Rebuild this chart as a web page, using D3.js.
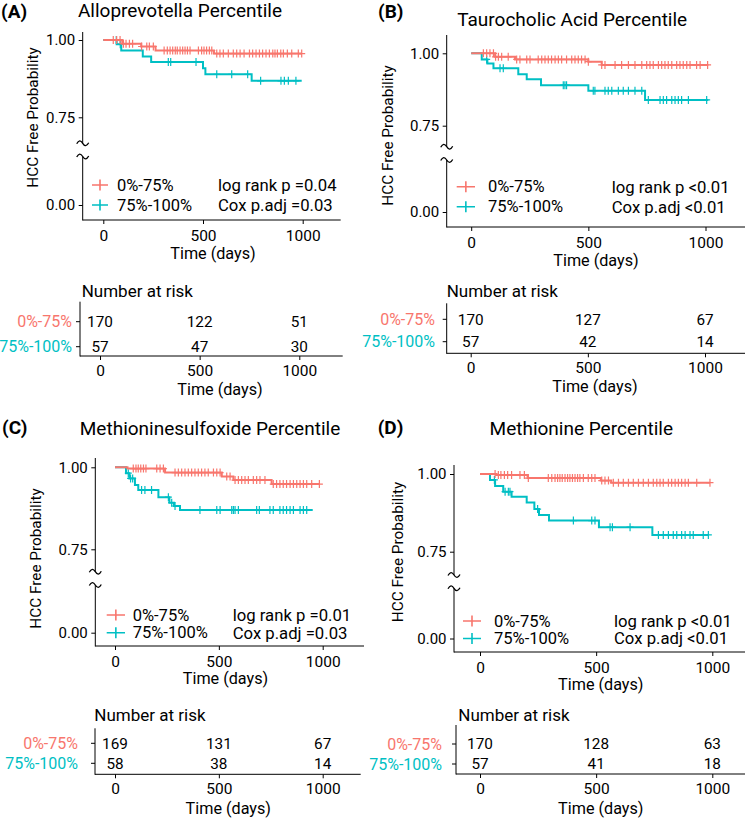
<!DOCTYPE html>
<html><head><meta charset="utf-8">
<script src="https://cdn.jsdelivr.net/npm/d3@7"></script>
<style>
body{margin:0;background:#fff}
svg text{font-family:Roboto, "Open Sans", sans-serif; fill:#000}
</style></head>
<body><svg id="c" width="750" height="819"></svg>
<script>
// ---------------- DATA ----------------
const groups = ["0%-75%", "75%-100%"];
const groupColors = ["#F8766D", "#00BFC4"];
const xTicks = [0, 500, 1000];
const xTickLabels = ["0", "500", "1000"];
const yTicks = [0, 0.75, 1];
const yTickLabels = ["0.00", "0.75", "1.00"];
const panelLetters = ["(A)", "(B)", "(C)", "(D)"];
const titles = ["Alloprevotella Percentile", "Taurocholic Acid Percentile", "Methioninesulfoxide Percentile", "Methionine Percentile"];
const logRankTexts = ["log rank p =0.04", "log rank p <0.01", "log rank p =0.01", "log rank p <0.01"];
const coxTexts = ["Cox p.adj =0.03", "Cox p.adj <0.01", "Cox p.adj =0.03", "Cox p.adj <0.01"];

// Panel A
const stepsA_low = [[0,1],[95,0.988],[190,0.979],[262,0.966],[555,0.956]];
const endA_low = 995;
const censA_low = [50,67,84,101,114,131,147,192,218,231,251,305,321,335,348,361,371,385,398,410,422,435,477,493,505,518,532,544,569,585,602,627,652,669,686,706,733,749,766,783,799,816,833,850,861,873,890,903,923,945,978,995];
const stepsA_high = [[0,1],[67,0.986],[90,0.966],[198,0.947],[240,0.929],[500,0.909],[512,0.889],[744,0.868]];
const endA_high = 995;
const censA_high = [65,85,326,338,465,569,644,724,789,891,908,928,966];
const riskA_low = [170,122,51];
const riskA_high = [57,47,30];

// Panel B
const stepsB_low = [[0,1],[102,0.988],[187,0.979],[500,0.971],[557,0.96]];
const endB_low = 1012;
const censB_low = [52,66,80,95,104,116,130,158,194,208,237,251,286,301,315,329,343,358,372,386,407,429,443,457,471,486,500,557,571,614,642,671,699,728,749,763,777,799,813,827,841,856,877,891,905,920,934,962,977,1009];
const stepsB_high = [[0,1],[45,0.979],[69,0.965],[95,0.948],[201,0.928],[237,0.91],[298,0.89],[500,0.871],[742,0.839]];
const endB_high = 1012;
const censB_high = [66,123,137,393,400,407,521,528,571,585,600,628,649,671,699,728,756,806,820,834,856,870,884,898,927,1005];
const riskB_low = [170,127,67];
const riskB_high = [57,42,14];

// Panel C
const stepsC_low = [[0,1],[60,0.996],[241,0.984],[514,0.972],[570,0.961],[754,0.949]];
const endC_low = 984;
const censC_low = [88,101,112,124,137,149,201,217,233,289,305,321,337,353,369,385,401,417,433,449,474,490,506,538,554,578,594,610,626,642,666,682,698,722,762,778,794,810,826,843,859,875,891,907,923,947,984];
const stepsC_high = [[0,1],[53,0.982],[69,0.966],[96,0.946],[112,0.931],[209,0.909],[262,0.892],[284,0.882],[313,0.87]];
const endC_high = 952;
const censC_high = [64,75,85,128,144,176,257,273,289,409,490,506,562,570,578,594,682,695,746,762,794,810,826,843,859,891,907,923];
const riskC_low = [169,131,67];
const riskC_high = [58,38,14];

// Panel D
const stepsD_low = [[0,1],[70,0.997],[205,0.987],[520,0.979],[565,0.972]];
const endD_low = 990;
const censD_low = [65,79,90,105,119,136,172,191,208,294,309,323,334,344,354,366,377,387,398,409,420,430,445,466,481,495,524,538,553,574,596,617,639,660,682,703,725,746,761,775,789,811,825,840,854,868,883,897,933,990];
const stepsD_high = [[0,1],[43,0.981],[65,0.961],[100,0.943],[136,0.927],[201,0.908],[234,0.887],[254,0.868],[297,0.85],[512,0.829],[742,0.804]];
const endD_high = 983;
const censD_high = [62,108,122,129,248,402,481,495,560,570,646,768,789,811,832,847,868,883,904,918,961,983];
const riskD_low = [170,128,63];
const riskD_high = [57,41,18];

const panelData = [
  {steps:[stepsA_low,stepsA_high], ends:[endA_low,endA_high], cens:[censA_low,censA_high], risk:[riskA_low,riskA_high]},
  {steps:[stepsB_low,stepsB_high], ends:[endB_low,endB_high], cens:[censB_low,censB_high], risk:[riskB_low,riskB_high]},
  {steps:[stepsC_low,stepsC_high], ends:[endC_low,endC_high], cens:[censC_low,censC_high], risk:[riskC_low,riskC_high]},
  {steps:[stepsD_low,stepsD_high], ends:[endD_low,endD_high], cens:[censD_low,censD_high], risk:[riskD_low,riskD_high]}
];

// ---------------- LAYOUT ----------------
const layout = [
  {lx:1, ly:17.5, tx:180, ty:16.5, ax:82.7, aTop:32, y100:40, y075:117.3, y000:205, xAxisY:220, x0:103.3, x1:302.7, xEnd:340.7,
   tilde:[143.3,156.5], xTitleX:213, xTitleY:258.7, ylabX:33, ylabY:117.5, legSym:[92,108], legTx:117, legY:[185,205], statX:218,
   r:{ax:80, top:301.7, rows:[321.7,346.7], xAxisY:356, x0:100, x1:299.3, xEnd:342.7, titleX:220, titleY:395.3, nrX:81.7, nrY:296.7, rowLabX:72}},
  {lx:378, ly:17.5, tx:572.2, ty:25.5, ax:446.7, aTop:35, y100:53.3, y075:125.7, y000:212, xAxisY:227, x0:471.2, x1:705.5, xEnd:745,
   tilde:[146.7,160], xTitleX:596, xTitleY:266, ylabX:388, ylabY:135.5, legSym:[456.7,475], legTx:488, legY:[186.7,206.7], statX:611.7,
   r:{ax:446.7, top:303.3, rows:[319.3,341.7], xAxisY:353.3, x0:470.7, x1:705, xEnd:745, titleX:595, titleY:392, nrX:446.7, nrY:296.7, rowLabX:435}},
  {lx:2, ly:434, tx:210, ty:435, ax:95.3, aTop:458, y100:467.3, y075:549.3, y000:632.7, xAxisY:646, x0:115, x1:322.7, xEnd:364,
   tilde:[571.7,585], xTitleX:225.5, xTitleY:684, ylabX:36, ylabY:558.5, legSym:[106.7,125], legTx:132.7, legY:[615,632.7], statX:232.7,
   r:{ax:95, top:728.3, rows:[743.3,763.3], xAxisY:774.3, x0:115, x1:322.7, xEnd:360.7, titleX:228.3, titleY:813.5, nrX:94.3, nrY:720.7, rowLabX:78}},
  {lx:377.7, ly:434, tx:581.3, ty:435, ax:454, aTop:465, y100:474, y075:551.7, y000:638.5, xAxisY:652, x0:480, x1:712.3, xEnd:745,
   tilde:[575,588.3], xTitleX:600.8, xTitleY:690, ylabX:398, ylabY:552, legSym:[463,481], legTx:494, legY:[621,638.5], statX:614,
   r:{ax:456, top:725, rows:[744,764], xAxisY:774, x0:480, x1:712.3, xEnd:745, titleX:600.8, titleY:813.5, nrX:458.3, nrY:720.7, rowLabX:442}}
];

// ---------------- DRAW ----------------
const svg = d3.select("#c");

function survAt(steps, t) {
  let v = steps[0][1];
  for (const s of steps) { if (s[0] <= t) v = s[1]; }
  return v;
}

function styleAxisText(g, size) {
  g.selectAll("text").attr("font-size", size).attr("font-family", "Roboto, sans-serif").attr("fill", "#000");
  g.selectAll("line").attr("stroke", "#000");
  g.attr("font-family", null).attr("font-size", null);
}

function tilde(cx, cy) {
  return `M${cx-6},${cy+0.5} Q${cx-3},${cy-5} ${cx},${cy} T${cx+6},${cy-0.5}`;
}

layout.forEach((L, i) => {
  const D = panelData[i];
  svg.append("text").attr("x", L.lx).attr("y", L.ly).attr("font-size", 19).attr("font-weight", "bold").text(panelLetters[i]);
  svg.append("text").attr("x", L.tx).attr("y", L.ty).attr("font-size", 19).attr("text-anchor", "middle").text(titles[i]);

  const x = d3.scaleLinear().domain([0, 1000]).range([L.x0, L.x1]);
  const y = d3.scaleLinear().domain([0, 0.75, 1]).range([L.y000, L.y075, L.y100]);

  const yg = svg.append("g").attr("transform", `translate(${L.ax},0)`)
    .call(d3.axisLeft(y).tickValues(yTicks).tickFormat((v, j) => yTickLabels[j]).tickSize(4).tickPadding(3.5));
  yg.select(".domain").remove();
  styleAxisText(yg, 15);
  svg.append("line").attr("x1", L.ax).attr("x2", L.ax).attr("y1", L.aTop).attr("y2", L.tilde[0]).attr("stroke", "#000");
  svg.append("line").attr("x1", L.ax).attr("x2", L.ax).attr("y1", L.tilde[1]).attr("y2", L.xAxisY + 0.5).attr("stroke", "#000");
  L.tilde.forEach(ty => svg.append("path").attr("d", tilde(L.ax, ty)).attr("fill", "none").attr("stroke", "#000").attr("stroke-width", 1.3));

  const xg = svg.append("g").attr("transform", `translate(0,${L.xAxisY})`)
    .call(d3.axisBottom(x).tickValues(xTicks).tickFormat((v, j) => xTickLabels[j]).tickSize(4).tickPadding(5.5));
  xg.select(".domain").remove();
  styleAxisText(xg, 15.5);
  svg.append("line").attr("x1", L.ax).attr("x2", L.xEnd).attr("y1", L.xAxisY).attr("y2", L.xAxisY).attr("stroke", "#000");
  svg.append("text").attr("x", L.xTitleX).attr("y", L.xTitleY).attr("font-size", 16.2).attr("text-anchor", "middle").text("Time (days)");

  svg.append("text").attr("transform", `translate(${L.ylabX},${L.ylabY}) rotate(-90)`).attr("dy", "0.35em")
    .attr("font-size", 15.3).attr("text-anchor", "middle").text("HCC Free Probability");

  const line = d3.line().x(d => x(d[0])).y(d => y(d[1])).curve(d3.curveStepAfter);
  [1, 0].forEach(gi => {
    const steps = D.steps[gi];
    const pts = steps.concat([[D.ends[gi], steps[steps.length - 1][1]]]);
    svg.append("path").attr("d", line(pts)).attr("fill", "none").attr("stroke", groupColors[gi]).attr("stroke-width", 2);
    svg.append("g").selectAll("path").data(D.cens[gi]).join("path")
      .attr("d", t => { const cx = x(t), cy = y(survAt(steps, t)); return `M${cx-3.5},${cy}H${cx+3.5}M${cx},${cy-4}V${cy+4}`; })
      .attr("stroke", groupColors[gi]).attr("stroke-width", 1.2).attr("fill", "none");
  });

  groups.forEach((gname, gi) => {
    const ly = L.legY[gi];
    const cx = (L.legSym[0] + L.legSym[1]) / 2;
    svg.append("path").attr("d", `M${L.legSym[0]},${ly}H${L.legSym[1]}M${cx},${ly-5.5}V${ly+5.5}`)
      .attr("stroke", groupColors[gi]).attr("stroke-width", 1.6).attr("fill", "none");
    svg.append("text").attr("x", L.legTx).attr("y", ly).attr("dy", "0.35em").attr("font-size", 16.5).text(gname);
  });
  svg.append("text").attr("x", L.statX).attr("y", L.legY[0]).attr("dy", "0.35em").attr("font-size", 16.7).text(logRankTexts[i]);
  svg.append("text").attr("x", L.statX).attr("y", L.legY[1]).attr("dy", "0.35em").attr("font-size", 16.7).text(coxTexts[i]);

  const R = L.r;
  const xr = d3.scaleLinear().domain([0, 1000]).range([R.x0, R.x1]);
  svg.append("text").attr("x", R.nrX).attr("y", R.nrY).attr("font-size", 17).text("Number at risk");
  svg.append("line").attr("x1", R.ax).attr("x2", R.ax).attr("y1", R.top).attr("y2", R.xAxisY + 0.5).attr("stroke", "#000");
  const xrg = svg.append("g").attr("transform", `translate(0,${R.xAxisY})`)
    .call(d3.axisBottom(xr).tickValues(xTicks).tickFormat((v, j) => xTickLabels[j]).tickSize(4).tickPadding(5));
  xrg.select(".domain").remove();
  styleAxisText(xrg, 15.5);
  svg.append("line").attr("x1", R.ax).attr("x2", R.xEnd).attr("y1", R.xAxisY).attr("y2", R.xAxisY).attr("stroke", "#000");
  svg.append("text").attr("x", R.titleX).attr("y", R.titleY).attr("font-size", 16.2).attr("text-anchor", "middle").text("Time (days)");
  groups.forEach((gname, gi) => {
    const ry = R.rows[gi];
    svg.append("line").attr("x1", R.ax - 4).attr("x2", R.ax).attr("y1", ry).attr("y2", ry).attr("stroke", "#000");
    svg.append("text").attr("x", R.rowLabX).attr("y", ry).attr("dy", "0.35em").attr("text-anchor", "end")
      .attr("font-size", 16).style("fill", groupColors[gi]).text(gname);
    svg.append("g").selectAll("text").data(D.risk[gi]).join("text")
      .attr("x", (v, j) => xr(xTicks[j])).attr("y", ry).attr("dy", "0.35em").attr("text-anchor", "middle")
      .attr("font-size", 15.3).text(v => v);
  });
});
</script>
</body></html>
